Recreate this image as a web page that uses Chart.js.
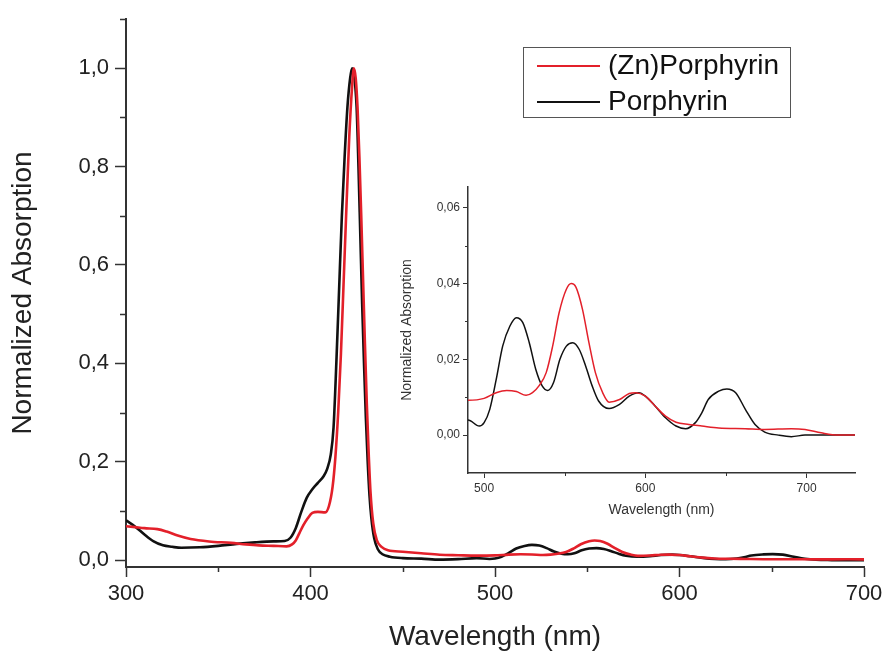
<!DOCTYPE html>
<html>
<head>
<meta charset="utf-8">
<title>Normalized Absorption</title>
<script src="https://cdn.jsdelivr.net/npm/chart.js@4.4.1/dist/chart.umd.min.js"></script>
<style>
  html, body { margin: 0; padding: 0; background: #fff; }
  #wrap { position: relative; width: 885px; height: 651px; overflow: hidden; }
  #main { position: absolute; left: 0; top: 0; }
  #inset { position: absolute; left: 380px; top: 180px; }
</style>
</head>
<body>
<div id="wrap">
  <canvas id="main" width="885" height="651"></canvas>
  <canvas id="inset" width="490" height="340"></canvas>
</div>
<script>
// spectra (wavelength in nm, normalized absorption)
const zincWl = [300, 305, 310, 317, 322, 328, 335, 345, 357, 365, 372, 380, 387, 390, 392, 394, 396, 398.5, 401, 404, 408, 410, 412, 413.5, 415, 416.5, 418, 419.5, 421, 422.5, 423.5, 424.5, 425.5, 426.5, 427.5, 428.5, 429.5, 430.5, 431.5, 432.5, 434, 436, 438.5, 442, 450, 460, 470, 480, 490, 500, 507.5, 514, 520, 526, 530, 534, 538.5, 542.5, 546.5, 551, 554, 557, 561, 565, 569, 573.5, 577.5, 584, 590, 594, 600, 606, 612.5, 619, 627, 635, 645.5, 662, 674, 690.5, 699, 709, 719.5, 730];
const zincAbs = [0.069, 0.067, 0.065, 0.063, 0.058, 0.050, 0.043, 0.038, 0.035, 0.032, 0.030, 0.029, 0.028, 0.032, 0.040, 0.055, 0.070, 0.085, 0.096, 0.098, 0.097, 0.11, 0.15, 0.21, 0.30, 0.42, 0.57, 0.72, 0.86, 0.96, 1.0, 0.98, 0.92, 0.82, 0.70, 0.57, 0.44, 0.32, 0.22, 0.14, 0.075, 0.040, 0.027, 0.020, 0.017, 0.014, 0.011, 0.010, 0.0092, 0.0097, 0.0112, 0.0118, 0.0115, 0.0105, 0.0112, 0.013, 0.0165, 0.0235, 0.0323, 0.0385, 0.040, 0.039, 0.0332, 0.0244, 0.0165, 0.0112, 0.0087, 0.0094, 0.011, 0.0112, 0.0103, 0.0077, 0.005, 0.0034, 0.0028, 0.0024, 0.0019, 0.0017, 0.0015, 0.0017, 0.0015, 0.0006, 0.0, 0.0];

const porphWl = [300, 305, 310, 315, 320, 325, 330, 340, 350, 360, 370, 380, 386, 389, 392, 395, 398, 401, 404, 407, 409, 411, 412.5, 414, 415.5, 417, 418.5, 420, 421.5, 422.5, 423.5, 425, 426, 427, 428, 429, 430, 431, 432, 433, 434.5, 436.5, 439, 443, 450, 460, 470, 480, 490, 497, 500, 503.5, 507.5, 511.5, 516, 520, 524, 528, 532, 536, 539.5, 543, 547, 551, 555, 559, 563, 567, 571, 577.5, 584, 590, 596, 600, 606, 612.5, 619, 625, 631, 635, 639, 645.5, 650.5, 656, 662, 668, 674, 682.5, 690.5, 699, 730];
const porphAbs = [0.081, 0.068, 0.052, 0.038, 0.030, 0.027, 0.025, 0.026, 0.029, 0.033, 0.036, 0.038, 0.039, 0.045, 0.065, 0.098, 0.127, 0.144, 0.157, 0.170, 0.185, 0.215, 0.27, 0.40, 0.55, 0.70, 0.82, 0.92, 0.98, 1.0, 0.99, 0.92, 0.80, 0.66, 0.52, 0.40, 0.29, 0.20, 0.13, 0.085, 0.045, 0.022, 0.012, 0.007, 0.004, 0.003, 0.001, 0.002, 0.004, 0.0024, 0.0033, 0.0068, 0.0147, 0.0235, 0.0288, 0.031, 0.0297, 0.0244, 0.0174, 0.013, 0.0118, 0.0138, 0.020, 0.0235, 0.0244, 0.0226, 0.0182, 0.013, 0.009, 0.007, 0.0081, 0.0103, 0.0112, 0.0103, 0.0077, 0.0046, 0.0024, 0.0017, 0.0033, 0.0059, 0.0094, 0.0116, 0.0122, 0.0112, 0.0068, 0.0028, 0.0008, 0.0, -0.0004, 0.0, 0.0];

const seriesNames = ['(Zn)Porphyrin', 'Porphyrin'];
const seriesColors = ['#e3202a', '#111111'];

// tick labels
const mainXTicks = [300, 400, 500, 600, 700];
const mainXMinor = [350, 450, 550, 650];
const mainYTicks = [0, 0.2, 0.4, 0.6, 0.8, 1.0];
const mainYMinor = [0.1, 0.3, 0.5, 0.7, 0.9, 1.1];
const insetXTicks = [500, 600, 700];
const insetXMinor = [550, 650];
const insetYTicks = [0, 0.02, 0.04, 0.06];
const insetYMinor = [0.01, 0.03, 0.05];

const toPoints = (xs, ys) => xs.map((x, i) => ({ x: x, y: ys[i] }));
const comma = (v, d) => v.toFixed(d).replace('.', ',');
const fixTicks = (list) => (scale) => { scale.ticks = list.map(v => ({ value: v })); };

const FONT = "'Liberation Sans', Arial, sans-serif";
const AXIS = '#333';

// short ticks between the labelled ones
const minorTicks = {
  id: 'minorTicks',
  afterDraw(chart, args, o) {
    const { ctx, chartArea } = chart;
    const xs = chart.scales.x, ys = chart.scales.y;
    ctx.save();
    ctx.strokeStyle = AXIS;
    ctx.lineWidth = o.width;
    ctx.beginPath();
    o.x.forEach(v => {
      const px = Math.round(xs.getPixelForValue(v)) + 0.5;
      ctx.moveTo(px, chartArea.bottom);
      ctx.lineTo(px, chartArea.bottom + o.lenX);
    });
    o.y.forEach(v => {
      const py = Math.round(ys.getPixelForValue(v)) + 0.5;
      ctx.moveTo(chartArea.left, py);
      ctx.lineTo(chartArea.left - o.lenY, py);
    });
    ctx.stroke();
    ctx.restore();
  }
};

// framed legend like the original
const boxLegend = {
  id: 'boxLegend',
  afterDatasetsDraw(chart, args, o) {
    if (!o.show) return;
    const ctx = chart.ctx;
    ctx.save();
    ctx.fillStyle = '#fff';
    ctx.fillRect(o.left, o.top, o.width, o.height);
    ctx.strokeStyle = '#555';
    ctx.lineWidth = 1;
    ctx.strokeRect(o.left + 0.5, o.top + 0.5, o.width, o.height);
    ctx.font = o.font;
    ctx.textBaseline = 'middle';
    chart.data.datasets.forEach((ds, i) => {
      const y = o.top + o.rowTop + i * o.rowGap;
      ctx.strokeStyle = ds.borderColor;
      ctx.lineWidth = 2;
      ctx.beginPath();
      ctx.moveTo(o.left + 14, y);
      ctx.lineTo(o.left + 77, y);
      ctx.stroke();
      ctx.fillStyle = '#111';
      ctx.fillText(ds.label, o.left + 85, y);
    });
    ctx.restore();
  }
};

// fixed axis boxes so the plot area lands where the original has it
const fitY = (w) => (s) => { s.width = w; s.paddingTop = 0; s.paddingBottom = 0; };
const fitX = (h) => (s) => { s.height = h; s.paddingLeft = 0; s.paddingRight = 0; };

function makeDatasets(width) {
  return [
    { label: seriesNames[0], data: toPoints(zincWl, zincAbs), borderColor: seriesColors[0], borderWidth: width, pointRadius: 0, cubicInterpolationMode: 'monotone', fill: false },
    { label: seriesNames[1], data: toPoints(porphWl, porphAbs), borderColor: seriesColors[1], borderWidth: width, pointRadius: 0, cubicInterpolationMode: 'monotone', fill: false }
  ];
}

new Chart(document.getElementById('main'), {
  type: 'line',
  data: { datasets: makeDatasets(2.6) },
  plugins: [minorTicks, boxLegend],
  options: {
    responsive: false,
    animation: false,
    events: [],
    layout: { padding: { top: 19, right: 21, left: 0, bottom: 0 } },
    plugins: {
      legend: { display: false },
      tooltip: { enabled: false },
      minorTicks: { x: mainXMinor, y: mainYMinor, lenX: 5, lenY: 6, width: 1.5 },
      boxLegend: { show: true, left: 523, top: 47, width: 267, height: 70, rowTop: 19, rowGap: 36, font: '28px ' + FONT }
    },
    scales: {
      x: {
        type: 'linear', min: 300, max: 700,
        afterBuildTicks: fixTicks(mainXTicks),
        afterFit: fitX(84),
        grid: { drawOnChartArea: false, tickLength: 10, tickColor: AXIS, tickWidth: 1.5 },
        border: { color: AXIS, width: 2 },
        ticks: { padding: 4, color: '#222', font: { family: FONT, size: 22 }, maxRotation: 0 },
        title: { display: true, text: 'Wavelength (nm)', color: '#222', font: { family: FONT, size: 28, lineHeight: 1 }, padding: 0 }
      },
      y: {
        type: 'linear', min: -0.014, max: 1.1,
        afterBuildTicks: fixTicks(mainYTicks),
        afterFit: fitY(126),
        grid: { drawOnChartArea: false, tickLength: 11, tickColor: AXIS, tickWidth: 1.5 },
        border: { color: AXIS, width: 2 },
        ticks: { padding: 6, color: '#222', font: { family: FONT, size: 22 }, callback: v => comma(v, 1) },
        title: { display: true, text: 'Normalized Absorption', color: '#222', font: { family: FONT, size: 28, lineHeight: 1 }, padding: 9 }
      }
    }
  }
});

new Chart(document.getElementById('inset'), {
  type: 'line',
  data: { datasets: makeDatasets(1.5) },
  plugins: [minorTicks],
  options: {
    responsive: false,
    animation: false,
    events: [],
    layout: { padding: { top: 7, right: 15, left: 0, bottom: 0 } },
    plugins: {
      legend: { display: false },
      tooltip: { enabled: false },
      minorTicks: { x: insetXMinor, y: insetYMinor, lenX: 3, lenY: 3, width: 1 }
    },
    scales: {
      x: {
        type: 'linear', min: 490, max: 730,
        afterBuildTicks: fixTicks(insetXTicks),
        afterFit: fitX(47),
        grid: { drawOnChartArea: false, tickLength: 5, tickColor: AXIS },
        border: { color: AXIS, width: 1.5 },
        ticks: { padding: 3, color: '#333', font: { family: FONT, size: 12 }, maxRotation: 0 },
        title: { display: true, text: 'Wavelength (nm)', color: '#333', font: { family: FONT, size: 14, lineHeight: 1 }, padding: 3 }
      },
      y: {
        type: 'linear', min: -0.01, max: 0.0655,
        afterBuildTicks: fixTicks(insetYTicks),
        afterFit: fitY(88),
        grid: { drawOnChartArea: false, tickLength: 5, tickColor: AXIS },
        border: { color: AXIS, width: 1.5 },
        ticks: { padding: 3, color: '#333', font: { family: FONT, size: 12 }, callback: v => comma(v, 2) },
        title: { display: true, text: 'Normalized Absorption', color: '#333', font: { family: FONT, size: 14, lineHeight: 1 }, padding: 20 }
      }
    }
  }
});
</script>
</body>
</html>
